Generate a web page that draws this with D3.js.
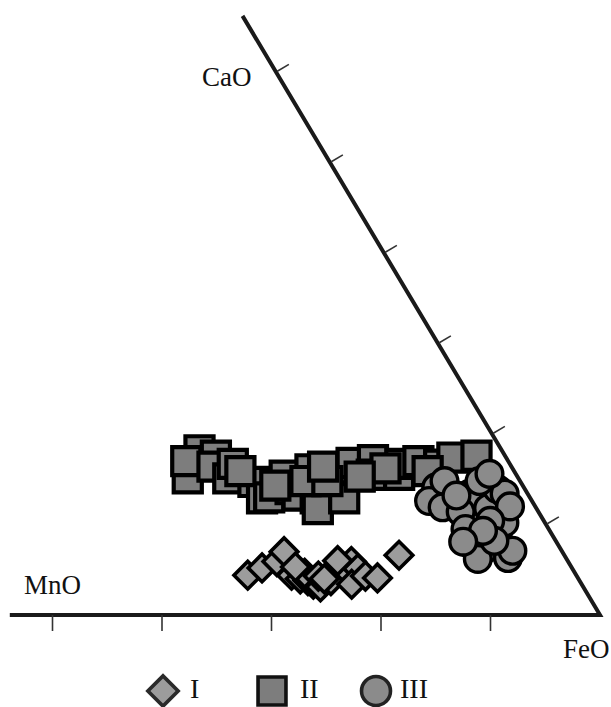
<!DOCTYPE html>
<html>
<head>
<meta charset="utf-8">
<script src="https://cdn.jsdelivr.net/npm/d3@7"></script>
<style>
  html, body { margin: 0; padding: 0; background: #fff; }
  svg { display: block; font-family: "Liberation Serif", "Times New Roman", serif; }
</style>
</head>
<body>
<svg id="chart" width="611" height="707"></svg>
<script>
// Ternary diagram CaO – MnO – FeO (wt.%), only the FeO-rich corner is shown.
const axisNames = ["CaO", "MnO", "FeO"];
const seriesNames = ["I", "II", "III"];

// Group I (diamonds)
const caoI = [4.4, 5.2, 5.9, 7.0, 4.4, 4.0, 3.8, 3.4, 3.1, 3.8, 5.1, 5.9, 5.1, 3.4, 4.3, 4.1, 6.6, 4.6, 4.3, 6.0, 5.3, 4.0];
const mnoI = [30.0, 28.3, 26.6, 25.4, 26.0, 25.4, 24.8, 24.5, 24.0, 22.7, 20.8, 19.8, 19.6, 21.0, 19.3, 18.3, 15.1, 24.7, 23.6, 21.0, 25.2, 23.2];

// Group II (squares)
const caoII = [18.2, 15.1, 17.0, 17.6, 16.4, 15.1, 16.7, 14.7, 12.9, 13.0, 15.4, 13.9, 13.2, 12.9, 11.7, 12.9, 16.2, 16.1, 14.8, 16.8,
               17.1, 15.5, 15.5, 16.7, 17.0, 16.6, 17.4, 17.6, 15.9, 16.2, 14.8, 16.4, 15.3, 15.9, 14.3];
const mnoII = [27.6, 30.2, 29.4, 26.4, 27.3, 26.5, 25.3, 24.4, 24.5, 23.8, 21.2, 21.4, 21.1, 19.6, 20.0, 17.0, 16.2, 18.5, 19.6, 14.4,
               12.3, 13.2, 10.7, 10.0, 8.2, 6.5, 4.9, 2.6, 7.9, 11.6, 17.6, 17.2, 14.4, 25.0, 22.6];

// Group III (circles)
const caoIII = [14.1, 12.6, 14.8, 11.9, 13.4, 11.4, 11.8, 13.9, 13.4, 9.3, 7.9, 7.4, 6.3, 7.1, 6.2, 10.2, 12.0, 13.2, 14.8, 10.4,
                9.5, 8.2, 15.6, 9.3, 8.1];
const mnoIII = [8.0, 9.4, 6.9, 8.5, 5.3, 7.1, 4.4, 2.5, 2.1, 4.7, 8.0, 6.7, 5.3, 4.5, 8.1, 3.7, 2.3, 6.6, 3.7, 4.9,
                7.6, 5.6, 2.4, 6.1, 8.5];

// Tick values (wt.%) along the two drawn edges
const caoTicks = [10, 20, 30, 40, 50, 60];
const mnoTicks = [10, 20, 30, 40, 50];
// Extent of the visible parts of the edges
const caoEdgeMax = 66.2;
const mnoEdgeMax = 53.9;

const svg = d3.select("#chart");

// Affine ternary projection: FeO corner is the origin of both scales.
const corner = { x: 600, y: 615 };
const mnoX = d3.scaleLinear().domain([0, 100]).range([0, -1095]);   // MnO moves left along the base
const caoX = d3.scaleLinear().domain([0, 100]).range([0, -540]);    // CaO moves up-left along the FeO–CaO edge
const caoY = d3.scaleLinear().domain([0, 100]).range([0, -905]);
const project = (cao, mno) => [corner.x + mnoX(mno) + caoX(cao), corner.y + caoY(cao)];

const ink = "#1a1a1a";

// Triangle edges: MnO–FeO base and FeO–CaO side
const baseEnd = project(0, mnoEdgeMax);
const sideEnd = project(caoEdgeMax, 0);
svg.append("path")
  .attr("d", d3.line()([baseEnd, project(0, 0), sideEnd]))
  .attr("fill", "none")
  .attr("stroke", ink)
  .attr("stroke-width", 4)
  .attr("stroke-linejoin", "miter");

// Base ticks (pointing down)
svg.append("g").selectAll("line").data(mnoTicks).join("line")
  .attr("x1", d => project(0, d)[0]).attr("x2", d => project(0, d)[0])
  .attr("y1", corner.y).attr("y2", corner.y + 16)
  .attr("stroke", "#333").attr("stroke-width", 1.6);

// Side ticks (pointing outward, perpendicular to the edge)
const sdx = caoX(100), sdy = caoY(100), slen = Math.hypot(sdx, sdy);
const nx = -sdy / slen, ny = sdx / slen;   // outward normal
svg.append("g").selectAll("line").data(caoTicks).join("line")
  .attr("x1", d => project(d, 0)[0] + nx * 1.5).attr("y1", d => project(d, 0)[1] + ny * 1.5)
  .attr("x2", d => project(d, 0)[0] + nx * 15).attr("y2", d => project(d, 0)[1] + ny * 15)
  .attr("stroke", "#333").attr("stroke-width", 1.6);

// Axis names
const labelPos = { CaO: [202, 86], MnO: [24, 594], FeO: [563, 658] };
svg.append("g").selectAll("text").data(axisNames).join("text")
  .attr("x", d => labelPos[d][0]).attr("y", d => labelPos[d][1])
  .attr("font-size", 27).attr("fill", "#111")
  .text(d => d);

// Marker styles per group
const styles = {
  I:   { symbol: d3.symbolSquare, size: 380, rotate: 45, fill: "#9c9c9c", sw: 3.6 },
  II:  { symbol: d3.symbolSquare, size: 790, rotate: 0,  fill: "#7d7d7d", sw: 4.2 },
  III: { symbol: d3.symbolCircle, size: 560, rotate: 0,  fill: "#8b8b8b", sw: 3.4 }
};

const groups = {
  I:   d3.zip(caoI, mnoI),
  II:  d3.zip(caoII, mnoII),
  III: d3.zip(caoIII, mnoIII)
};

// Squares first, then circles above them; diamonds sit apart near the base
["II", "III", "I"].forEach(name => {
  const st = styles[name];
  svg.append("g").attr("class", "series-" + name)
    .selectAll("path").data(groups[name]).join("path")
    .attr("d", d3.symbol(st.symbol, st.size))
    .attr("transform", d => {
      const [x, y] = project(d[0], d[1]);
      return `translate(${x},${y}) rotate(${st.rotate})`;
    })
    .attr("fill", st.fill)
    .attr("stroke", "#000")
    .attr("stroke-width", st.sw)
    .attr("stroke-linejoin", "miter");
});

// Legend
const legendItems = [
  { name: "I",   sx: 163, tx: 190, size: 460, stroke: "#2a2a2a" },
  { name: "II",  sx: 272, tx: 300, size: 780, stroke: "#111" },
  { name: "III", sx: 376, tx: 400, size: 660, stroke: "#222" }
];
const legendY = 691;
const legend = svg.append("g");
legend.selectAll("path").data(legendItems).join("path")
  .attr("d", d => d3.symbol(styles[d.name].symbol, d.size)())
  .attr("transform", d => `translate(${d.sx},${legendY}) rotate(${styles[d.name].rotate})`)
  .attr("fill", d => styles[d.name].fill)
  .attr("stroke", d => d.stroke)
  .attr("stroke-width", 3.6);
legend.selectAll("text").data(legendItems).join("text")
  .attr("x", d => d.tx).attr("y", legendY + 7)
  .attr("font-size", 28).attr("fill", "#111")
  .text(d => d.name);
</script>
</body>
</html>
